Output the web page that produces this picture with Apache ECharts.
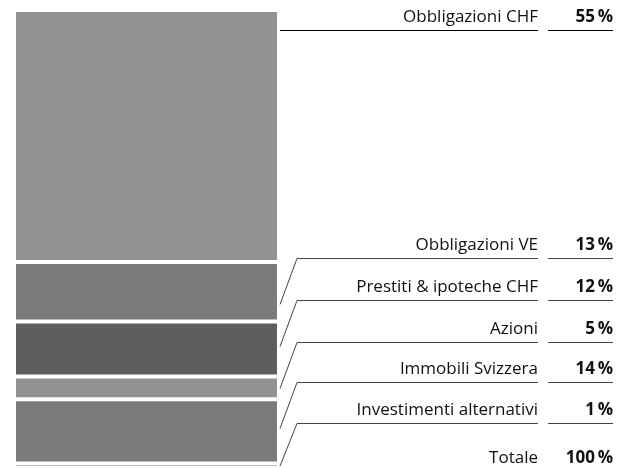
<!DOCTYPE html>
<html>
<head>
<meta charset="utf-8">
<script src="https://cdn.jsdelivr.net/npm/echarts@6/dist/echarts.min.js"></script>
<style>
  html, body { margin: 0; padding: 0; background: #fff; }
  #chart { width: 630px; height: 468px; }
</style>
</head>
<body>
<div id="chart"></div>
<script>
// data
const categories = ['Obbligazioni CHF', 'Obbligazioni VE', 'Prestiti & ipoteche CHF', 'Azioni', 'Immobili Svizzera', 'Investimenti alternativi']
const shares = [55, 13, 12, 5, 14, 1]
const totalName = 'Totale'
const totalShare = 100

const colors = ['#929292', '#7b7b7b', '#5e5e5e', '#929292', '#7b7b7b', '#787878']
const font = '"Open Sans", "Noto Sans", sans-serif'

// layout of the label column
const gridLeft = 14
const gridTop = 10
const gridWidth = 265
const gridHeight = 458
const rowLines = [30, 258, 300, 342, 382, 423, 471]
const labelRight = 538
const valueLeft = 548
const valueRight = 613
const elbowX = 297

const chart = echarts.init(document.getElementById('chart'))

chart.setOption({
  animation: false,
  grid: { left: gridLeft, top: gridTop, width: gridWidth, height: gridHeight },
  xAxis: { type: 'category', data: ['tot'], show: false },
  yAxis: { type: 'value', min: 0, max: 100, inverse: true, show: false },
  series: categories.map((name, i) => ({
    name: name,
    type: 'bar',
    stack: 'all',
    barWidth: '100%',
    itemStyle: { color: colors[i], borderColor: '#fff', borderWidth: 2 },
    data: [shares[i]]
  }))
})

function pct(v) {
  return v + '\u2009%'
}

const graphics = []
const barRight = gridLeft + gridWidth + 1
let cum = 0
categories.forEach((name, i) => {
  const yTop = chart.convertToPixel({ gridIndex: 0 }, [0, cum])[1]
  cum += shares[i]
  const yBot = chart.convertToPixel({ gridIndex: 0 }, [0, cum])[1]
  const ly = rowLines[i] + 0.5
  const dark = i === 0
  const stroke = dark ? '#000' : '#444'
  let pts
  if (ly >= yTop && ly <= yBot) {
    pts = [[barRight, ly], [labelRight, ly]]
  } else {
    const yEnd = Math.max(yTop + 1, Math.min(yBot - 2, ly + 46))
    pts = [[barRight, yEnd], [elbowX, ly], [labelRight, ly]]
  }
  graphics.push({
    type: 'polyline',
    shape: { points: pts },
    style: { stroke: stroke, lineWidth: 1, fill: null }
  })
  graphics.push({
    type: 'line',
    shape: { x1: valueLeft, y1: ly, x2: valueRight, y2: ly },
    style: { stroke: stroke, lineWidth: 1 }
  })
  graphics.push({
    type: 'text',
    style: { text: name, x: labelRight, y: rowLines[i] - 13, align: 'right', verticalAlign: 'middle', font: '17px ' + font, fill: '#111' }
  })
  graphics.push({
    type: 'text',
    style: { text: pct(shares[i]), x: valueRight, y: rowLines[i] - 13, align: 'right', verticalAlign: 'middle', font: 'bold 17px ' + font, fill: '#111' }
  })
})
graphics.push({
  type: 'text',
  style: { text: totalName, x: labelRight, y: rowLines[6] - 13, align: 'right', verticalAlign: 'middle', font: '17px ' + font, fill: '#111' }
})
graphics.push({
  type: 'text',
  style: { text: pct(totalShare), x: valueRight, y: rowLines[6] - 13, align: 'right', verticalAlign: 'middle', font: 'bold 17px ' + font, fill: '#111' }
})

chart.setOption({ graphic: graphics })
</script>
</body>
</html>
